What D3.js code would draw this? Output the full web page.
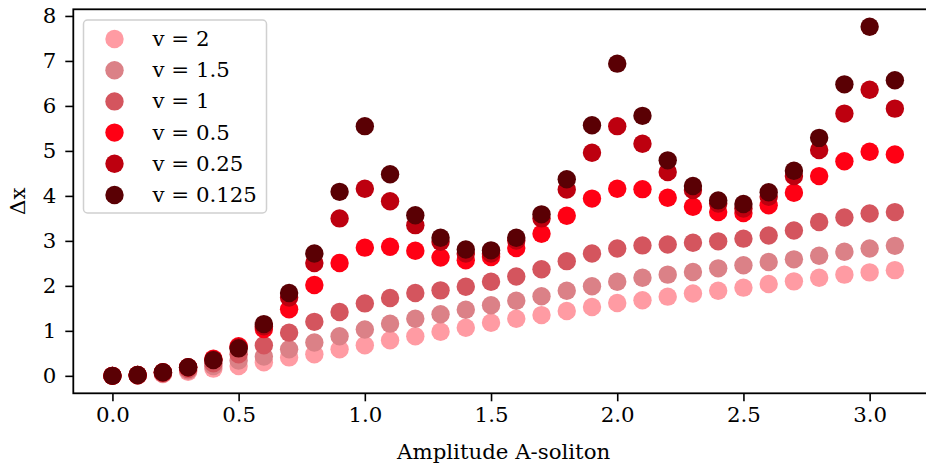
<!DOCTYPE html>
<html>
  <head>
    <meta charset="utf-8">
    <title>Delta x vs amplitude</title>
    <style>
      body{
        margin: 0;
        background-color: #FFF;
      }

      svg{
        display: block;
      }

      text{
        font-family: 'DejaVu Serif', serif;
        fill: #000;
      }

      .axis path, .axis line{
        stroke: #000;
      }
    </style>
  </head>

  <body>
  </body>

  <script src="https://d3js.org/d3.v7.min.js"></script>
  <script>
const width = 926;
const height = 467;

// amplitude of the A-soliton, 0.0 .. 3.1
const amplitude = [0, 0.1, 0.2, 0.3, 0.4, 0.5, 0.6, 0.7, 0.8, 0.9, 1.0, 1.1, 1.2, 1.3, 1.4, 1.5,
  1.6, 1.7, 1.8, 1.9, 2.0, 2.1, 2.2, 2.3, 2.4, 2.5, 2.6, 2.7, 2.8, 2.9, 3.0, 3.1];

const seriesLabels = ['v = 2', 'v = 1.5', 'v = 1', 'v = 0.5', 'v = 0.25', 'v = 0.125'];
const seriesColors = ['#ff9ba3', '#db8187', '#d4555e', '#ff0014', '#bd000f', '#5a0004'];

const dxV2 = [0, 0.01, 0.04, 0.09, 0.16, 0.22, 0.3, 0.41, 0.48, 0.59, 0.68, 0.79, 0.88, 0.98, 1.07, 1.18,
  1.27, 1.35, 1.44, 1.53, 1.62, 1.68, 1.76, 1.83, 1.89, 1.96, 2.04, 2.1, 2.18, 2.25, 2.3, 2.35];
const dxV15 = [0, 0.01, 0.05, 0.12, 0.22, 0.34, 0.43, 0.59, 0.74, 0.88, 1.03, 1.16, 1.27, 1.37, 1.47, 1.57,
  1.67, 1.77, 1.89, 1.99, 2.09, 2.18, 2.25, 2.31, 2.39, 2.46, 2.53, 2.59, 2.67, 2.76, 2.83, 2.89];
const dxV1 = [0, 0.02, 0.06, 0.15, 0.28, 0.48, 0.68, 0.96, 1.2, 1.42, 1.61, 1.73, 1.84, 1.9, 1.98, 2.09,
  2.21, 2.37, 2.55, 2.72, 2.83, 2.9, 2.92, 2.96, 2.99, 3.05, 3.12, 3.23, 3.42, 3.52, 3.61, 3.64];
const dxV05 = [0, 0.02, 0.08, 0.19, 0.38, 0.66, 1.04, 1.48, 2.02, 2.51, 2.85, 2.87, 2.78, 2.63, 2.57, 2.64,
  2.84, 3.16, 3.56, 3.94, 4.16, 4.15, 3.96, 3.76, 3.64, 3.62, 3.79, 4.07, 4.44, 4.77, 4.98, 4.92];
const dxV025 = [0, 0.02, 0.08, 0.19, 0.36, 0.63, 1.1, 1.74, 2.51, 3.5, 4.16, 3.88, 3.35, 2.98, 2.72, 2.72,
  3.01, 3.5, 4.14, 4.96, 5.55, 5.16, 4.53, 4.13, 3.83, 3.72, 3.98, 4.44, 5.02, 5.83, 6.36, 5.94];
const dxV0125 = [0, 0.02, 0.08, 0.19, 0.35, 0.61, 1.15, 1.84, 2.72, 4.09, 5.55, 4.48, 3.57, 3.07, 2.81, 2.79,
  3.07, 3.59, 4.37, 5.57, 6.94, 5.78, 4.79, 4.22, 3.9, 3.82, 4.08, 4.56, 5.29, 6.48, 7.76, 6.57];

const xTicks = [0, 0.5, 1.0, 1.5, 2.0, 2.5, 3.0];
const yTicks = [0, 1, 2, 3, 4, 5, 6, 7, 8];

const series = [dxV2, dxV15, dxV1, dxV05, dxV025, dxV0125].map((vals, k) => ({
  label: seriesLabels[k],
  color: seriesColors[k],
  points: vals.map((v, i) => ({ a: amplitude[i], dx: v }))
}));

// axes box: right edge falls just outside the picture, like the original crop
const boxLeft = 73.3, boxRight = 934, boxTop = 9.3, boxBottom = 393.3;
const fontSize = 21.3;

const x = d3.scaleLinear().domain([-0.155, 3.255]).range([boxLeft, boxRight]);
const y = d3.scaleLinear().domain([-0.388, 8.148]).range([boxBottom, boxTop]);

const svg = d3.select('body')
  .append('svg')
  .attr('width', width)
  .attr('height', height);

// points, lightest series first so the dark ones sit on top
const groups = svg.append('g').selectAll('g')
  .data(series)
  .join('g')
    .attr('fill', (d) => d.color);

groups.selectAll('circle')
  .data((d) => d.points)
  .join('circle')
    .attr('cx', (d) => x(d.a))
    .attr('cy', (d) => y(d.dx))
    .attr('r', 9.2);

// frame
svg.append('rect')
  .attr('x', boxLeft)
  .attr('y', boxTop)
  .attr('width', boxRight - boxLeft)
  .attr('height', boxBottom - boxTop)
  .attr('fill', 'none')
  .attr('stroke', '#000')
  .attr('stroke-width', 1.8);

const xAxis = svg.append('g')
  .attr('class', 'axis')
  .attr('transform', `translate(0,${boxBottom})`)
  .call(d3.axisBottom(x).tickValues(xTicks).tickFormat(d3.format('.1f')).tickSize(8).tickPadding(6));

const yAxis = svg.append('g')
  .attr('class', 'axis')
  .attr('transform', `translate(${boxLeft},0)`)
  .call(d3.axisLeft(y).tickValues(yTicks).tickFormat(d3.format('d')).tickSize(8).tickPadding(9));

[xAxis, yAxis].forEach((ax) => {
  ax.select('.domain').remove();
  ax.selectAll('line').attr('stroke-width', 1.6);
  ax.selectAll('text')
    .attr('font-family', "'DejaVu Serif', serif")
    .attr('font-size', fontSize)
    .attr('fill', '#000');
});

svg.append('text')
  .attr('x', (boxLeft + boxRight) / 2)
  .attr('y', 459)
  .attr('text-anchor', 'middle')
  .attr('font-size', fontSize)
  .text('Amplitude A-soliton');

svg.append('text')
  .attr('transform', `translate(25,${(boxTop + boxBottom) / 2}) rotate(-90)`)
  .attr('text-anchor', 'middle')
  .attr('font-size', fontSize)
  .text('Δx');

// legend
const legend = svg.append('g').attr('transform', 'translate(83.5,20)');

legend.append('rect')
  .attr('width', 183)
  .attr('height', 193)
  .attr('rx', 4)
  .attr('fill', '#fff')
  .attr('fill-opacity', 0.8)
  .attr('stroke', '#d0d0d0')
  .attr('stroke-width', 1.5);

const items = legend.selectAll('g.item')
  .data(series)
  .join('g')
    .attr('class', 'item')
    .attr('transform', (d, i) => `translate(0,${19 + i * 31.2})`);

items.append('circle')
  .attr('cx', 31)
  .attr('cy', 0)
  .attr('r', 9.2)
  .attr('fill', (d) => d.color);

items.append('text')
  .attr('x', 69)
  .attr('y', 7)
  .attr('font-size', fontSize)
  .text((d) => d.label);
  </script>
</html>
